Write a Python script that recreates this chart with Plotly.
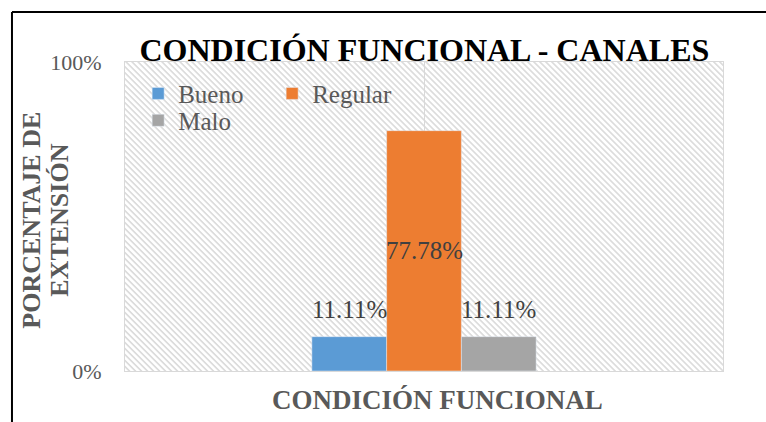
import base64

import plotly.graph_objects as go

# Data
categories = ['CONDICIÓN FUNCIONAL']
series_names = ['Bueno', 'Regular', 'Malo']
series_values = [0.1111, 0.7778, 0.1111]
series_colors = ['#5B9BD5', '#ED7D31', '#A5A5A5']
label_inside = [False, True, False]
series_legends = ['legend', 'legend', 'legend2']
y_ticks = [0, 1]
y_tick_labels = ['0%', '100%']

serif = 'Liberation Serif'
bar_px = 598 * (1 - 0.625) / 3

# Hatched plot background (Excel "wide downward diagonal" pattern)
svg = (
    '<svg xmlns="http://www.w3.org/2000/svg" width="598" height="309">'
    '<defs><pattern id="p" patternUnits="userSpaceOnUse" width="4.24" '
    'height="4.24" patternTransform="rotate(-45)">'
    '<rect x="0" y="0" width="1.7" height="4.24" fill="#dcdcdc"/>'
    '</pattern></defs>'
    '<rect width="598" height="309" fill="white"/>'
    '<rect width="598" height="309" fill="url(#p)"/></svg>')
hatch = 'data:image/svg+xml;base64,' + base64.b64encode(
    svg.encode('utf-8')).decode('ascii')

fig = go.Figure()

labels = []
for i, (name, value, color, inside, leg) in enumerate(zip(
        series_names, series_values, series_colors, label_inside,
        series_legends)):
    fig.add_trace(
        go.Bar(
            x=categories,
            y=[value],
            name=name,
            legend=leg,
            marker_color=color))
    # Data label, centred on its bar
    labels.append(dict(
        x=categories[0], y=value / 2 if inside else value,
        xref='x', yref='y',
        text='%.2f%%' % (value * 100),
        showarrow=False,
        xshift=(i - 1) * bar_px,
        yanchor='middle' if inside else 'bottom',
        yshift=0 if inside else 12,
        font=dict(family=serif, size=25, color='#404040')))

# Axis titles
labels += [
    dict(text='<b>PORCENTAJE DE</b>', textangle=-90,
         xref='paper', yref='paper', x=-0.157, y=0.487,
         showarrow=False, xanchor='center', yanchor='middle',
         font=dict(family=serif, size=26, color='#595959')),
    dict(text='<b>EXTENSIÓN</b>', textangle=-90,
         xref='paper', yref='paper', x=-0.110, y=0.487,
         showarrow=False, xanchor='center', yanchor='middle',
         font=dict(family=serif, size=26, color='#595959')),
    dict(text='<b>CONDICIÓN FUNCIONAL</b>',
         xref='paper', yref='paper', x=0.5226, y=-0.094,
         showarrow=False, xanchor='center', yanchor='middle',
         font=dict(family=serif, size=27, color='#595959'))]

fig.update_layout(
    width=766,
    height=422,
    margin=dict(l=125, r=43, t=62, b=51, autoexpand=False),
    paper_bgcolor='white',
    plot_bgcolor='rgba(0,0,0,0)',
    font=dict(family=serif),
    barmode='group',
    bargap=0.625,
    bargroupgap=0,
    title=dict(
        text='<b>CONDICIÓN FUNCIONAL - CANALES</b>',
        x=0.554, xanchor='center',
        y=0.882, yanchor='middle',
        font=dict(family=serif, size=32, color='black')),
    legend=dict(
        orientation='h',
        x=0.022, xanchor='left',
        y=0.972, yanchor='top',
        entrywidth=89,
        bgcolor='rgba(0,0,0,0)',
        font=dict(family=serif, size=25, color='#595959')),
    legend2=dict(
        orientation='h',
        x=0.022, xanchor='left',
        y=0.885, yanchor='top',
        bgcolor='rgba(0,0,0,0)',
        font=dict(family=serif, size=25, color='#595959')),
    xaxis=dict(
        automargin=False,
        showticklabels=False,
        showgrid=True,
        gridcolor='#d9d9d9',
        showline=True,
        linecolor='#d9d9d9',
        mirror=True),
    yaxis=dict(
        automargin=False,
        range=[0, 1],
        tickvals=y_ticks,
        ticktext=y_tick_labels,
        showgrid=False,
        zeroline=False,
        showline=True,
        linecolor='#d9d9d9',
        mirror=True,
        ticks='outside',
        ticklen=18,
        tickcolor='rgba(0,0,0,0)',
        tickfont=dict(family=serif, size=22, color='#595959')),
    annotations=labels,
    images=[dict(
        source=hatch,
        xref='paper', yref='paper',
        x=0, y=1, sizex=1, sizey=1,
        xanchor='left', yanchor='top',
        sizing='stretch',
        layer='below')],
    shapes=[
        dict(type='line', xref='paper', yref='paper',
             x0=-0.189, x1=-0.189, y0=-0.3, y1=1.162,
             line=dict(color='black', width=2)),
        dict(type='line', xref='paper', yref='paper',
             x0=-0.189, x1=1.2, y0=1.162, y1=1.162,
             line=dict(color='black', width=2))])

fig.write_html(
    'out.html',
    config={'displayModeBar': False},
    post_script="document.body.style.margin='0';")
